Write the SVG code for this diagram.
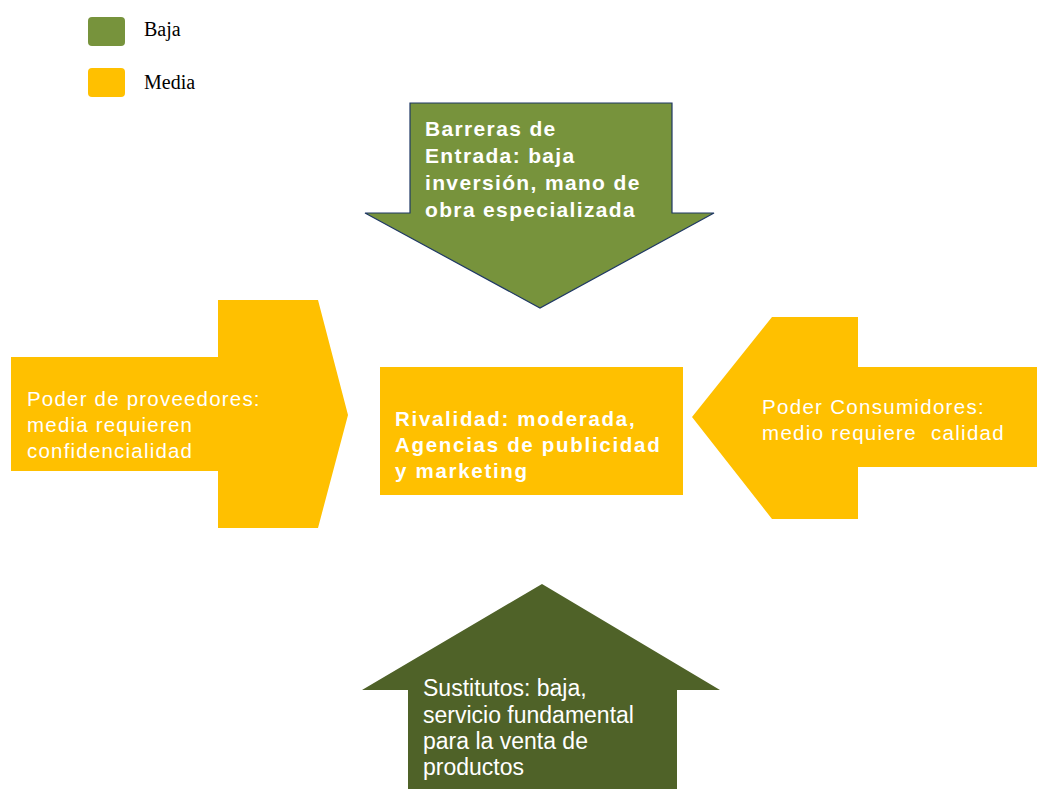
<svg xmlns="http://www.w3.org/2000/svg" width="1037" height="789" viewBox="0 0 1037 789">
<style>
.leg{font-family:"Liberation Serif","Times New Roman",serif;font-size:20px;fill:#000}
.bold{font-family:"Liberation Sans",Arial,sans-serif;font-weight:bold;fill:#fff}
.reg{font-family:"Liberation Sans",Arial,sans-serif;fill:#fff}
.green{fill:#77933C}
.orange{fill:#FFC000}
.dark{fill:#4F6228}
</style>
<rect width="1037" height="789" fill="#fff"/>
<g id="legend">
<rect class="green" x="88" y="17" width="37" height="29" rx="4"/>
<text class="leg" x="144" y="36">Baja</text>
<rect class="orange" x="88" y="68" width="37" height="29" rx="4"/>
<text class="leg" x="144" y="89">Media</text>
</g>
<g id="connectors"></g>
<g id="barreras">
<path class="green" d="M410,103 L672,103 L672,213 L714,213 L540,308 L365,213 L410,213 Z" stroke="#1F3864" stroke-width="1.2"/>
<text class="bold" font-size="21" letter-spacing="1.35"><tspan x="425" y="136">Barreras de</tspan><tspan x="425" y="163">Entrada: baja</tspan><tspan x="425" y="190">inversión, mano de</tspan><tspan x="425" y="217">obra especializada</tspan></text>
</g>
<g id="proveedores">
<path class="orange" d="M11,357 L218,357 L218,300 L318,300 L348,415 L318,528 L218,528 L218,471 L11,471 Z"/>
<text class="reg" font-size="20.5" letter-spacing="1.2"><tspan x="27" y="406">Poder de proveedores:</tspan><tspan x="27" y="432">media requieren</tspan><tspan x="27" y="458">confidencialidad</tspan></text>
</g>
<g id="rivalidad">
<rect class="orange" x="380" y="367" width="303" height="128"/>
<text class="bold" font-size="20.5" letter-spacing="1.7"><tspan x="395" y="426">Rivalidad: moderada,</tspan><tspan x="395" y="452">Agencias de publicidad</tspan><tspan x="395" y="478">y marketing</tspan></text>
</g>
<g id="consumidores">
<path class="orange" d="M692,417 L772,317 L858,317 L858,367 L1037,367 L1037,467 L858,467 L858,519 L772,519 Z"/>
<text class="reg" font-size="20.5" letter-spacing="1.3"><tspan x="762" y="414">Poder Consumidores:</tspan><tspan x="762" y="440">medio requiere &#160;calidad</tspan></text>
</g>
<g id="sustitutos">
<path class="dark" d="M542,584 L720,690 L677,690 L677,789 L408,789 L408,690 L362,690 Z"/>
<text class="reg" font-size="23" fill="#F2F2F2"><tspan x="423" y="696">Sustitutos: baja,</tspan><tspan x="423" y="723">servicio fundamental</tspan><tspan x="423" y="749">para la venta de</tspan><tspan x="423" y="775">productos</tspan></text>
</g>
</svg>
